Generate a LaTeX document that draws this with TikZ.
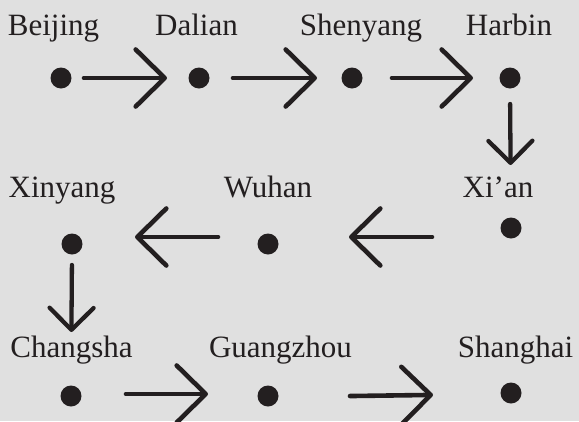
\documentclass[tikz,border=0pt]{standalone}
\usepackage{fontspec}
\setmainfont{Liberation Serif}
\usetikzlibrary{arrows.meta}

\definecolor{ink}{HTML}{231F20}
\definecolor{paper}{HTML}{E0E0E0}

\tikzset{
	city/.style={circle,fill=ink,minimum size=21pt,inner sep=0pt,outer sep=0pt},
	lbl/.style={anchor=base,text=ink,inner sep=0pt,font=\fontsize{31}{31}\selectfont},
	harr/.style={-{Straight Barb[length=29pt,width=57pt,round]},line width=4.6pt,line cap=round,draw=ink},
	varr/.style={-{Straight Barb[length=22pt,width=44pt,round]},line width=4.3pt,line cap=round,draw=ink}
}

\begin{document}
\begin{tikzpicture}[x=1pt,y=-1pt]
	\fill [paper] (0,0) rectangle (579,421);
	\useasboundingbox (0,0) rectangle (579,421);
	% first row
	\node [city] at (61,78) (bj) {};
	\node [city] at (199,78) (dl) {};
	\node [city] at (352,78) (sy) {};
	\node [city] at (510,78) (hb) {};
	\node [lbl] at (53.5,35) (bjL) {Beijing};
	\node [lbl] at (196.5,35) (dlL) {Dalian};
	\node [lbl] at (361,35) (syL) {Shenyang};
	\node [lbl] at (509,35) (hbL) {Harbin};
	% second row
	\node [city] at (511,228) (xa) {};
	\node [city] at (268,244) (wh) {};
	\node [city] at (72,244) (xy) {};
	\node [lbl] at (498,197) (xaL) {Xi’an};
	\node [lbl] at (268,197) (whL) {Wuhan};
	\node [lbl] at (62,197) (xyL) {Xinyang};
	% third row
	\node [city] at (71,396) (cs) {};
	\node [city] at (268,396) (gz) {};
	\node [city] at (511,393) (sh) {};
	\node [lbl] at (71.5,357) (csL) {Changsha};
	\node [lbl] at (280.5,357) (gzL) {Guangzhou};
	\node [lbl] at (515.5,357) (shL) {Shanghai};
	% arrows
	\draw [harr,shorten <=12.5pt,shorten >=21.5pt] (bj.east) -- (dl.west);
	\draw [harr,shorten <=23.5pt,shorten >=24.5pt] (dl.east) -- (sy.west);
	\draw [harr,shorten <=29.5pt,shorten >=26.5pt] (sy.east) -- (hb.west);
	\draw [varr,shorten <=15.5pt,shorten >=52.5pt] (hb.south) -- (xa.north);
	\draw [harr,shorten <=68.5pt,shorten >=70.5pt] ([yshift=-9pt]xa.west) -- ([yshift=7pt]wh.east);
	\draw [harr,shorten <=39.5pt,shorten >=52.5pt] ([yshift=7pt]wh.west) -- ([yshift=7pt]xy.east);
	\draw [varr,shorten <=10.5pt,shorten >=53.5pt] (xy.south) -- (cs.north);
	\draw [harr,shorten <=44.5pt,shorten >=49.5pt] ([yshift=2pt]cs.east) -- ([yshift=2pt]gz.west);
	\draw [harr,shorten <=71.5pt,shorten >=67.5pt] ([yshift=-1pt]gz.east) -- ([yshift=-1pt]sh.west);
\end{tikzpicture}
\end{document}
